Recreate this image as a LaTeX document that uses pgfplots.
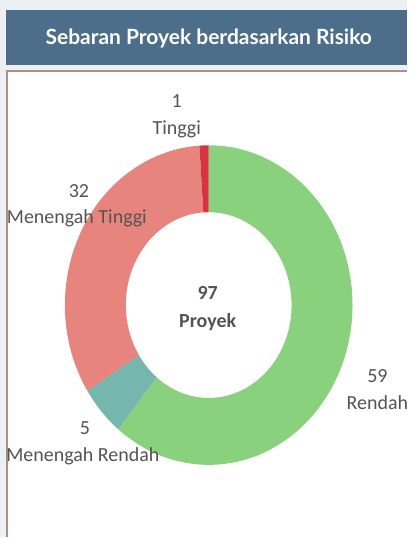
\documentclass[border=0pt]{standalone}
\usepackage{pgfplots}
\pgfplotsset{compat=1.18}
\usepackage{pgfplotstable}
\usepackage{fontspec}
\setmainfont{Carlito}
\newfontfamily\headfont{Lato}
\definecolor{pagebg}{HTML}{ECEFF3}
\definecolor{headbg}{HTML}{4C6E8B}
\definecolor{panelborder}{HTML}{AE8F82}
\definecolor{labeltext}{HTML}{545454}
\definecolor{c0}{HTML}{8AD17D}
\definecolor{c1}{HTML}{75B6AF}
\definecolor{c2}{HTML}{E8847E}
\definecolor{c3}{HTML}{D8333F}
\pgfplotstableread{
label value
Rendah 59
MenengahRendah 5
MenengahTinggi 32
Tinggi 1
}\donutdata
\begin{document}
\begin{tikzpicture}
\begin{axis}[
  width=408bp, height=538bp, scale only axis,
  xmin=0, xmax=408, ymin=0, ymax=538,
  hide axis, clip=false,
]
\pgfplotsextra{
  % page background, header, panel
  \fill[pagebg] (axis cs:0,0) rectangle (axis cs:408,538);
  \fill[headbg] (axis cs:6,528) rectangle (axis cs:408,473);
  \fill[white] (axis cs:7,468) rectangle (axis cs:408,0);
  \draw[panelborder, line width=1.5bp] (axis cs:7,0) -- (axis cs:7,467) -- (axis cs:408,467);
  \node[anchor=base, text=white, font=\headfont\bfseries\fontsize{21bp}{23bp}\selectfont]
    at (axis cs:209,493) {Sebaran Proyek berdasarkan Risiko};
  % donut from table
  \pgfplotstablegetrowsof{\donutdata}
  \pgfmathtruncatemacro\nrows{\pgfplotsretval-1}
  \gdef\dtotal{0}
  \foreach \i in {0,...,\nrows}{
    \pgfplotstablegetelem{\i}{value}\of{\donutdata}
    \pgfmathsetmacro\tmpsum{\dtotal+\pgfplotsretval}
    \xdef\dtotal{\tmpsum}
  }
  \gdef\dcum{0}
  \foreach \i in {0,...,\nrows}{
    \pgfplotstablegetelem{\i}{value}\of{\donutdata}
    \pgfmathsetmacro\newcum{\dcum+\pgfplotsretval}
    \pgfmathsetmacro\aStart{90-(360/\dtotal)*\dcum}
    \pgfmathsetmacro\aEnd{90-(360/\dtotal)*\newcum}
    \xdef\dcum{\newcum}
    \fill[c\i] (axis cs:{209+144*cos(\aStart)},{232.5+160*sin(\aStart)})
      arc[start angle=\aStart, end angle=\aEnd, x radius=144bp, y radius=160bp]
      -- (axis cs:{209+83*cos(\aEnd)},{232.5+93*sin(\aEnd)})
      arc[start angle=\aEnd, end angle=\aStart, x radius=83bp, y radius=93bp]
      -- cycle;
  }
  % labels
  \tikzset{lab/.style={anchor=base, text=labeltext, font=\fontsize{20bp}{22bp}\selectfont}}
  \node[lab] at (axis cs:177,430) {1};
  \node[lab] at (axis cs:177,403) {Tinggi};
  \node[lab] at (axis cs:79,340) {32};
  \node[lab] at (axis cs:77,314) {Menengah Tinggi};
  \node[lab] at (axis cs:85,103) {5};
  \node[lab] at (axis cs:83,76) {Menengah Rendah};
  \node[lab] at (axis cs:378,155) {59};
  \node[lab] at (axis cs:378,128) {Rendah};
  \node[lab, font=\bfseries\fontsize{20bp}{22bp}\selectfont] at (axis cs:208,238) {97};
  \node[lab, font=\bfseries\fontsize{20bp}{22bp}\selectfont] at (axis cs:208,210) {Proyek};
}
\end{axis}
\end{tikzpicture}
\end{document}
